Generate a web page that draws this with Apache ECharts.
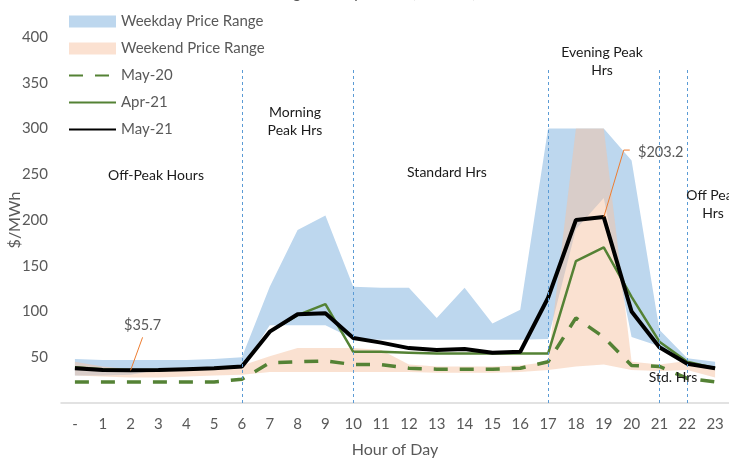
<!DOCTYPE html>
<html>
<head>
<meta charset="utf-8">
<script src="https://cdn.jsdelivr.net/npm/echarts@6/dist/echarts.min.js"></script>
<style>
  html, body { margin: 0; padding: 0; background: #fff; }
  #chart { width: 729px; height: 459px; }
</style>
</head>
<body>
<div id="chart"></div>
<script>
const hours = ['-', '1', '2', '3', '4', '5', '6', '7', '8', '9', '10', '11',
  '12', '13', '14', '15', '16', '17', '18', '19', '20', '21', '22', '23']

const weekdayLow = [30, 30, 31, 36, 36, 37, 38, 85, 85, 85, 70, 69, 69, 69, 69, 69, 69, 70, 190, 224, 72, 62, 42, 37]
const weekdayHigh = [48, 47, 47, 47, 47, 48, 50, 127, 189, 205, 127, 126, 126, 93, 126, 87, 102, 300, 300, 300, 265, 80, 49, 45]
const weekendLow = [30, 29, 28, 28, 29, 30, 31, 34, 34, 34, 34, 34, 34, 33, 33, 33, 34, 36, 40, 42, 36, 35, 36, 28]
const weekendHigh = [45, 40, 37, 37, 38, 39, 41, 51, 60, 60, 60, 58, 42, 40, 40, 40, 41, 45, 300, 300, 45, 42, 46, 38]

const may20 = [23, 23, 23, 23, 23, 23, 26, 44, 45, 46, 42, 42, 38, 37, 37, 37, 38, 45, 93, 72, 41, 40, 27, 23]
const apr21 = [39, 37, 36, 36, 37, 38, 40, 78, 96, 108, 56, 56, 55, 54, 54, 54, 54, 54, 155, 170, 116, 67, 45, 38]
const may21 = [38, 36, 35.7, 36, 37, 38, 40, 78, 97, 98, 71, 66, 60, 58, 59, 55, 56, 115, 200, 203.2, 100, 61, 43, 38]

// hours where the period boundaries are drawn
const boundaries = ['6', '10', '17', '21', '22']
const yTicks = [0, 50, 100, 150, 200, 250, 300, 350, 400]

const FONT = 'Lato, "Open Sans", sans-serif'
const GREY = '#595959'
const BLUE = '#BDD7EE'
const PEACH = 'rgba(246, 196, 163, 0.5)'
const GREEN = '#548235'

const chart = echarts.init(document.getElementById('chart'))

const bandSeries = (name, stack, values, color) => ({
  name,
  type: 'line',
  stack,
  data: values,
  symbol: 'none',
  lineStyle: { width: 0 },
  itemStyle: { color },
  areaStyle: color ? { color, opacity: 1 } : undefined,
  silent: true
})

const option = {
  animation: false,
  title: {
    text: 'Average Hourly Prices ($/MWh)',
    left: 'center',
    top: -20,
    textStyle: { fontFamily: FONT, fontSize: 16, fontWeight: 'normal', color: GREY }
  },
  legend: {
    orient: 'vertical',
    left: 68,
    top: 14,
    padding: 0,
    itemWidth: 47,
    itemHeight: 12,
    itemGap: 12,
    textStyle: { fontFamily: FONT, fontSize: 15, color: GREY, lineHeight: 15 },
    data: [
      { name: 'Weekday Price Range', icon: 'rect', itemStyle: { color: BLUE } },
      { name: 'Weekend Price Range', icon: 'rect', itemStyle: { color: 'rgb(251, 225, 209)' } },
      { name: 'May-20', itemStyle: { opacity: 0 } },
      { name: 'Apr-21', itemStyle: { opacity: 0 } },
      { name: 'May-21', itemStyle: { opacity: 0 } }
    ]
  },
  grid: { left: 61, right: 0, top: 37, bottom: 56, outerBoundsMode: 'none' },
  xAxis: {
    type: 'category',
    data: hours,
    name: 'Hour of Day',
    nameLocation: 'middle',
    nameGap: 39,
    nameMoveOverlap: false,
    nameTextStyle: { fontFamily: FONT, fontSize: 16, color: GREY },
    axisLine: { lineStyle: { color: '#D9D9D9', width: 1.5 } },
    axisTick: { show: false },
    axisLabel: { fontFamily: FONT, fontSize: 15, color: GREY, margin: 14 }
  },
  yAxis: {
    type: 'value',
    min: yTicks[0],
    max: yTicks[yTicks.length - 1],
    interval: 50,
    name: '$/MWh',
    nameLocation: 'middle',
    nameGap: 38,
    nameMoveOverlap: false,
    nameTextStyle: { fontFamily: FONT, fontSize: 16, color: GREY },
    splitLine: { show: false },
    axisLine: { show: false },
    axisTick: { show: false },
    axisLabel: {
      fontFamily: FONT, fontSize: 15, color: GREY, margin: 13,
      formatter: v => (v === 0 ? '' : v)
    }
  },
  series: [
    bandSeries('wdBase', 'weekday', weekdayLow, null),
    bandSeries('Weekday Price Range', 'weekday', weekdayHigh.map((v, i) => v - weekdayLow[i]), BLUE),
    bandSeries('weBase', 'weekend', weekendLow, null),
    bandSeries('Weekend Price Range', 'weekend', weekendHigh.map((v, i) => v - weekendLow[i]), PEACH),
    {
      name: 'May-20',
      type: 'line',
      data: may20,
      symbol: 'none',
      lineStyle: { color: GREEN, width: 3.5, type: [14, 12] },
      itemStyle: { color: GREEN }
    },
    {
      name: 'Apr-21',
      type: 'line',
      data: apr21,
      symbol: 'none',
      lineStyle: { color: GREEN, width: 2.5 },
      itemStyle: { color: GREEN }
    },
    {
      name: 'May-21',
      type: 'line',
      data: may21,
      symbol: 'none',
      lineStyle: { color: '#000', width: 4 },
      itemStyle: { color: '#000' },
      markLine: {
        silent: true,
        symbol: ['none', 'none'],
        label: { show: false },
        lineStyle: { color: '#5B9BD5', width: 1, type: [3, 3] },
        data: boundaries.map(h => [{ coord: [h, 0] }, { coord: [h, 364] }])
      }
    }
  ]
}

chart.setOption(option)

// annotations, placed from the axes
const px = (x, y) => chart.convertToPixel({ xAxisIndex: 0, yAxisIndex: 0 }, [x, y])
const lowPt = px(2, may21[2])
const peakPt = px(19, may21[19])

const note = (text, x, y, color, size) => ({
  type: 'text',
  x,
  y,
  z: 100,
  silent: true,
  style: {
    text,
    align: 'center',
    verticalAlign: 'middle',
    fontFamily: FONT,
    fontSize: size || 14,
    lineHeight: 18,
    fill: color || '#1a1a1a'
  }
})

const leader = points => ({
  type: 'polyline',
  z: 100,
  silent: true,
  shape: { points },
  style: { stroke: '#ED7D31', lineWidth: 1, fill: null }
})

chart.setOption({
  graphic: [
    note('Off-Peak Hours', 156, 175),
    note('Morning\nPeak Hrs', 295, 121),
    note('Standard Hrs', 447, 172),
    note('Evening Peak\nHrs', 602, 61),
    note('Off Peak\nHrs', 713, 204),
    note('Std. Hrs', 673, 377),
    leader([[lowPt[0], lowPt[1]], [lowPt[0] + 12, lowPt[1] - 33]]),
    note('$35.7', lowPt[0] + 12, lowPt[1] - 45, GREY, 14.5),
    leader([[peakPt[0], peakPt[1]], [peakPt[0] + 20, peakPt[1] - 67], [peakPt[0] + 26, peakPt[1] - 67]]),
    note('$203.2', peakPt[0] + 57, peakPt[1] - 65, GREY, 14.5)
  ]
})
</script>
</body>
</html>
